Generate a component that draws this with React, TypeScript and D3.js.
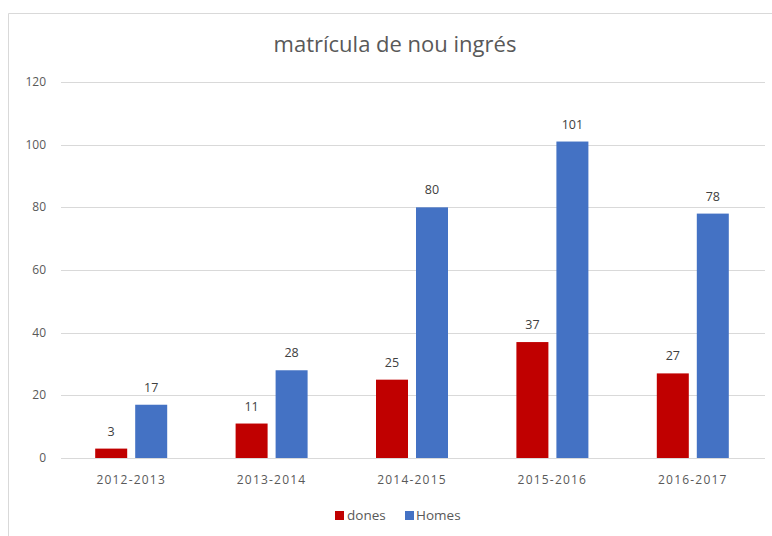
import React from "react";
import * as d3 from "d3";

const categories = ["2012-2013", "2013-2014", "2014-2015", "2015-2016", "2016-2017"];
const dones = [3, 11, 25, 37, 27];
const homes = [17, 28, 80, 101, 78];
const seriesNames = ["dones", "Homes"];
const seriesColors = ["#C00000", "#4472C4"];
const yTicks = [0, 20, 40, 60, 80, 100, 120];
const title = "matrícula de nou ingrés";

const W = 772;
const H = 536;
const font = "'Open Sans', 'Liberation Sans', sans-serif";

export default function App() {
  const x = d3.scaleBand<string>().domain(categories).range([61, 763]).paddingInner(0).paddingOuter(0);
  const y = d3.scaleLinear().domain([0, 120]).range([458, 82]);
  const inner = d3.scaleBand<string>().domain(seriesNames).range([0, 72]).paddingInner(0.2).paddingOuter(0);
  const series = [dones, homes];

  return (
    <svg width={W} height={H} style={{ position: "absolute", left: 0, top: 0, background: "#fff" }}>
      <rect x={0} y={0} width={W} height={H} fill="#fff" />
      <path d={`M8.5,${H} V13.5 H${W}`} fill="none" stroke="#d9d9d9" strokeWidth={1} />
      <text x={395} y={52} textAnchor="middle" fontFamily={font} fontSize={22} fill="#595959">
        {title}
      </text>
      {yTicks.map((t) => (
        <g key={t}>
          <line x1={61} x2={765} y1={Math.round(y(t)) + 0.5} y2={Math.round(y(t)) + 0.5} stroke="#d9d9d9" strokeWidth={1} />
          <text x={46} y={y(t) + 4} textAnchor="end" fontFamily={font} fontSize={12} fill="#595959">
            {t}
          </text>
        </g>
      ))}
      {categories.map((c, i) => {
        const cx = (x(c) as number) + x.bandwidth() / 2;
        const gx = cx - 36;
        return (
          <g key={c}>
            {series.map((s, k) => {
              const bx = gx + (inner(seriesNames[k]) as number);
              const bw = inner.bandwidth();
              return (
                <g key={k}>
                  <rect x={bx} y={y(s[i])} width={bw} height={y(0) - y(s[i])} fill={seriesColors[k]} />
                  <text x={bx + bw / 2} y={y(s[i]) - 13} textAnchor="middle" fontFamily={font} fontSize={12.5} fill="#404040">
                    {s[i]}
                  </text>
                </g>
              );
            })}
            <text x={cx} y={484} textAnchor="middle" fontFamily={font} fontSize={12} letterSpacing={1.2} fill="#595959">
              {c}
            </text>
          </g>
        );
      })}
      <g>
        <rect x={335} y={511} width={9} height={9} fill={seriesColors[0]} />
        <text x={347} y={520} fontFamily={font} fontSize={13.5} fill="#595959">
          {seriesNames[0]}
        </text>
        <rect x={405} y={511} width={9} height={9} fill={seriesColors[1]} />
        <text x={416} y={520} fontFamily={font} fontSize={13.5} fill="#595959">
          {seriesNames[1]}
        </text>
      </g>
    </svg>
  );
}
